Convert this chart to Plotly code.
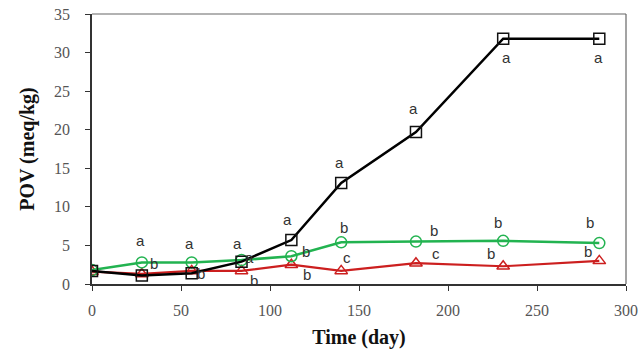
import plotly.graph_objects as go

days = [0, 28, 56, 84, 112, 140, 182, 231, 285]
pov_black = [1.7, 1.1, 1.4, 2.9, 5.7, 13.1, 19.7, 31.8, 31.8]
pov_green = [1.8, 2.8, 2.8, 3.1, 3.6, 5.4, 5.5, 5.6, 5.3]
pov_red = [1.6, 1.3, 1.7, 1.7, 2.5, 1.7, 2.7, 2.3, 3.0]

letter_x = [27.4, 34.7, 35.3, 54.8, 61.0, 57.6, 81.7, 88.4, 91.2, 109.7, 120.3, 120.9,
            141.6, 143.3, 138.8, 180.7, 191.9, 193.0, 228.3, 224.4, 232.8, 279.8, 278.7, 284.3]
letter_y = [5.7, 2.7, -0.3, 5.2, 1.4, -0.6, 5.2, 3.5, 0.4, 8.3, 4.15, 1.2,
            7.3, 3.4, 15.8, 22.8, 7.0, 4.0, 8.0, 4.0, 29.3, 8.0, 4.15, 29.4]
letter_t = ["a", "b", "b", "a", "b", "b", "a", "a", "b", "a", "b", "b",
            "b", "c", "a", "a", "b", "c", "b", "b", "a", "b", "b", "a"]

fig = go.Figure()
fig.add_trace(go.Scatter(x=days, y=pov_red, mode="lines+markers",
                         line=dict(color="#cc1f1f", width=2.2),
                         marker=dict(symbol="triangle-up-open", size=11, color="#cc1f1f", line=dict(width=1.5))))
fig.add_trace(go.Scatter(x=days, y=pov_green, mode="lines+markers",
                         line=dict(color="#22b350", width=2.5),
                         marker=dict(symbol="circle-open", size=11, color="#22b350", line=dict(width=1.5))))
fig.add_trace(go.Scatter(x=days, y=pov_black, mode="lines+markers",
                         line=dict(color="#000000", width=2.5),
                         marker=dict(symbol="square-open", size=11, color="#111111", line=dict(width=1.5))))

for x, y, t in zip(letter_x, letter_y, letter_t):
    fig.add_annotation(x=x, y=y, text=t, showarrow=False,
                       font=dict(family="Liberation Sans, Arial", size=15, color="#333333"))

axis_font = dict(family="Liberation Serif, Times New Roman", size=16, color="#555555")
title_font = dict(family="Liberation Serif, Times New Roman", size=20, color="#111")
fig.update_layout(
    width=644, height=351,
    margin=dict(l=92, r=18, t=14, b=67),
    paper_bgcolor="white", plot_bgcolor="white",
    showlegend=False,
    xaxis=dict(range=[0, 300], tickvals=[0, 50, 100, 150, 200, 250, 300],
               ticks="outside", ticklen=5, tickcolor="#333", showgrid=False, zeroline=False,
               showline=True, linecolor="#333", linewidth=1.5, mirror=False, automargin=False,
               tickfont=axis_font, ticklabelstandoff=6,
               title=dict(text="<b>Time (day)</b>", standoff=12, font=title_font)),
    yaxis=dict(range=[0, 35], tickvals=[0, 5, 10, 15, 20, 25, 30, 35],
               ticks="outside", ticklen=5, tickcolor="#333", showgrid=False, zeroline=False,
               showline=True, linecolor="#333", linewidth=1.5, mirror=False, automargin=False,
               tickfont=axis_font, ticklabelstandoff=12,
               title=dict(text="<b>POV (meq/kg)</b>", standoff=14, font=title_font)),
)
fig.add_shape(type="line", xref="paper", yref="paper", x0=0, x1=1, y0=1, y1=1,
              line=dict(color="#666", width=1.2))
fig.add_shape(type="line", xref="paper", yref="paper", x0=1, x1=1, y0=0, y1=1,
              line=dict(color="#666", width=1.2))
fig.write_html("out.html")
